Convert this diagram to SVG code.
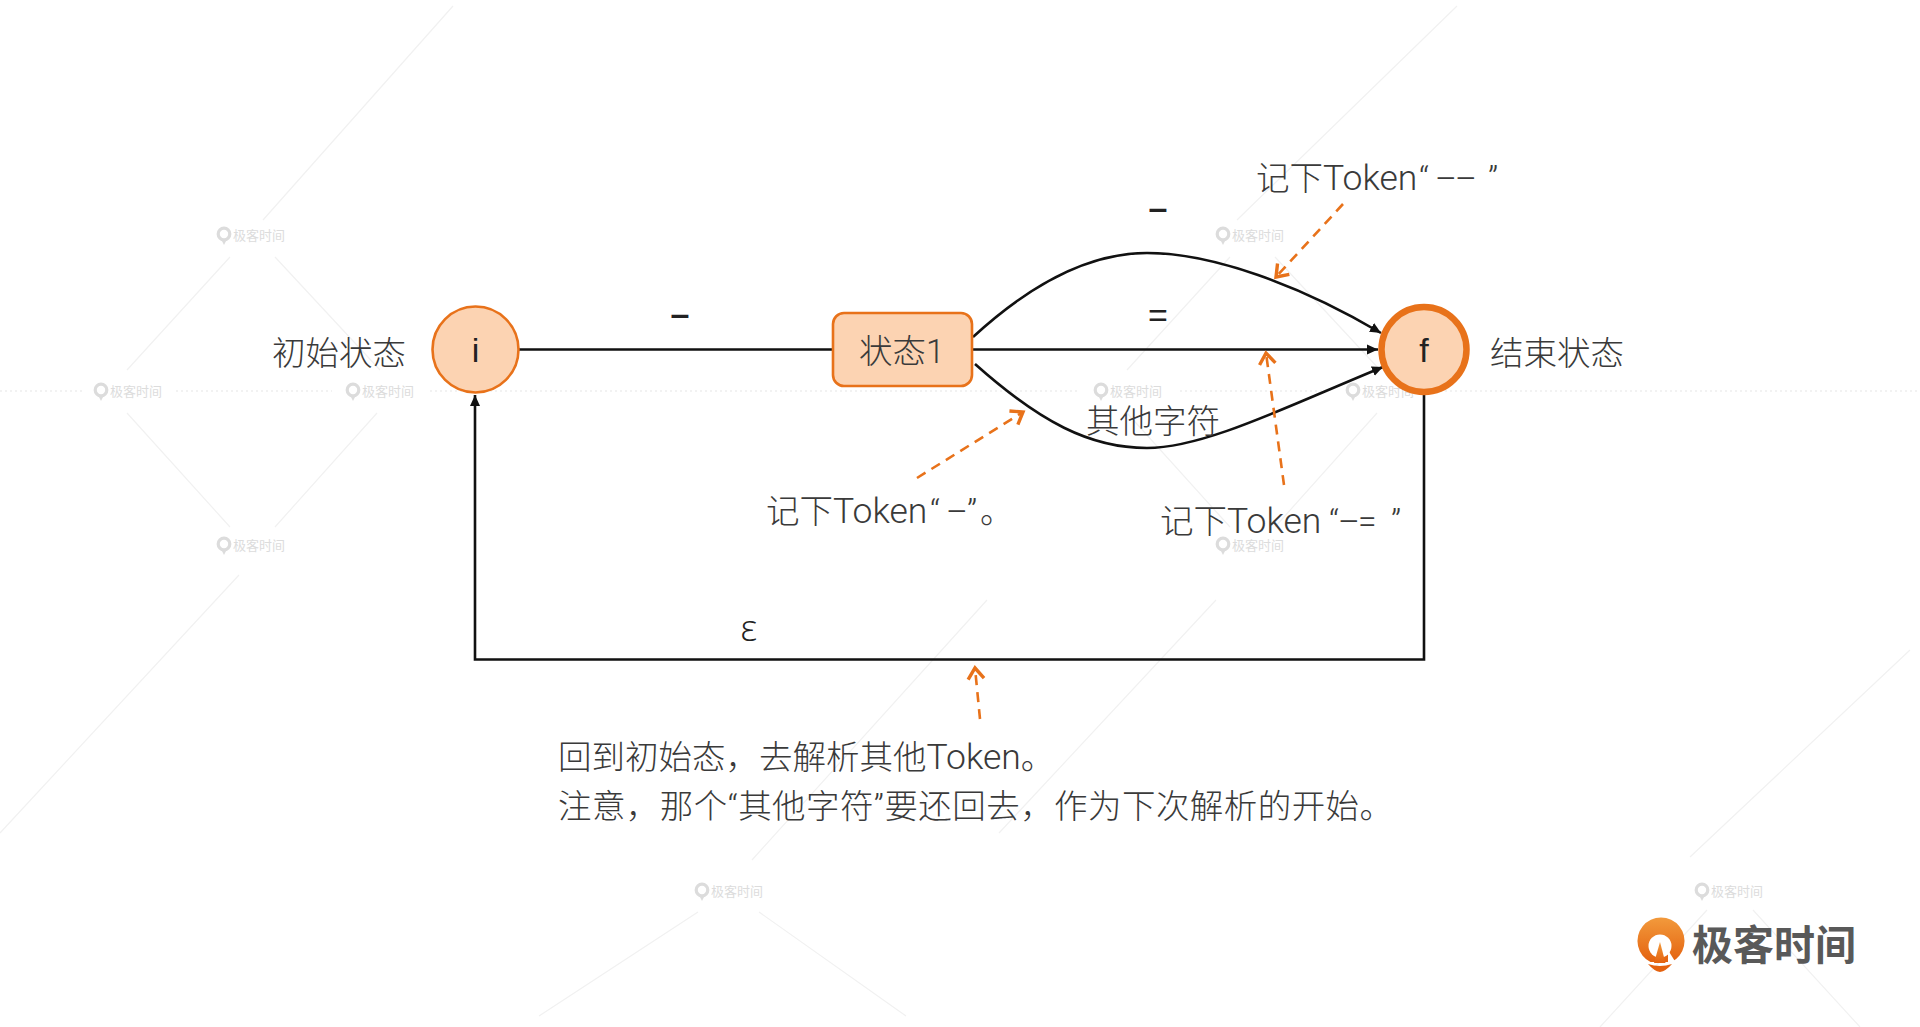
<svg xmlns="http://www.w3.org/2000/svg" width="1920" height="1027" viewBox="0 0 1920 1027">
<style>
text{font-family:Roboto,"Noto Sans CJK SC",sans-serif}
.t{font-size:33.5px;fill:#3a3a3a;font-weight:300}
.k{font-size:35.5px}
.m{font-family:"Liberation Sans",sans-serif;font-size:34px;fill:#222;text-anchor:middle}
.wm{font-family:"Noto Sans CJK SC",sans-serif;font-size:13px;fill:#dcdcdc}
.faint{stroke:#f1f1f1;stroke-width:1.2;fill:none}
.dots{stroke:#e6e6e6;stroke-width:1.2;fill:none;stroke-dasharray:2 3}
.edge{stroke:#111;stroke-width:2.6;fill:none}
.note{stroke:#e8721a;stroke-width:2.6;fill:none;stroke-dasharray:10 7}
.mk{fill:#111}
.node{fill:#fcd3b2;stroke:#e8721a}
</style>
<defs>
<marker id="ah" markerUnits="userSpaceOnUse" markerWidth="14" markerHeight="12" refX="11" refY="6" orient="auto"><path class="mk" d="M0,1 L11,6 L0,11 Z"/></marker>
<marker id="oh" markerUnits="userSpaceOnUse" markerWidth="20" markerHeight="20" refX="14" refY="10" orient="auto"><path d="M3,2 L14,10 L3,18" fill="none" stroke="#e8721a" stroke-width="3.4"/></marker>
<g id="wmk">
<circle cx="-27" cy="-1" r="5.800" fill="none" stroke="#dcdcdc" stroke-width="3.200"/>
<path d="M-30,4 L-27,10 L-24,4Z" fill="#dcdcdc"/>
<text class="wm" x="-18" y="5">极客时间</text>
</g>
<linearGradient id="lg" x1="0" y1="0" x2="0" y2="1"><stop offset="0" stop-color="#f29a3c"/><stop offset="1" stop-color="#e4620f"/></linearGradient>
</defs>
<rect width="1920" height="1027" fill="#fff"/>
<g id="watermark">
<path class="dots" d="M0,391 H84 M176,391 H332 M430,391 H1080 M1180,391 H1330 M1430,391 H1920"/>
<path class="faint" d="M453,6 L263,220 M230,257 L127,370 M275,257 L380,370 M127,413 L230,527 M377,413 L275,527 M239,575 L0,833 M1457,6 L1237,220 M1230,257 L1127,370 M1275,257 L1380,370 M1127,413 L1230,527 M1377,413 L1275,527 M987,600 L752,860 M1216,600 L999,833 M1910,650 L1690,857 M759,912 L906,1016 M698,912 L539,1016 M1753,910 L1860,1027 M1707,910 L1600,1027"/>
<use href="#wmk" x="251" y="235"/><use href="#wmk" x="1250" y="235"/>
<use href="#wmk" x="128" y="391"/><use href="#wmk" x="380" y="391"/>
<use href="#wmk" x="1128" y="391"/><use href="#wmk" x="1380" y="391"/>
<use href="#wmk" x="251" y="545"/><use href="#wmk" x="1250" y="545"/>
<use href="#wmk" x="729" y="891"/><use href="#wmk" x="1729" y="891"/>
</g>
<g id="connectors">
<path class="edge" d="M519,349.500 H832"/>
<path class="edge" d="M973,349.500 H1378" marker-end="url(#ah)"/>
<path class="edge" d="M973,337 C1035,280 1092,253 1147,253 C1212,253 1300,285 1381,333" marker-end="url(#ah)"/>
<path class="edge" d="M975,364 C1040,422 1090,448 1147,448 C1205,448 1290,405 1383,367" marker-end="url(#ah)"/>
<path class="edge" d="M1424,395 V659.500 H475 V395" marker-end="url(#ah)"/>
<path class="note" d="M1343,204 L1276,277" marker-end="url(#oh)"/>
<path class="note" d="M1284,485 L1266,353" marker-end="url(#oh)"/>
<path class="note" d="M917,478 L1023,412" marker-end="url(#oh)"/>
<path class="note" d="M980,719 L975,668" marker-end="url(#oh)"/>
</g>
<g id="node-i"><circle class="node" stroke-width="2.600" cx="475.500" cy="349.500" r="43"/><text class="m" x="475.500" y="362">i</text></g>
<g id="node-s1"><rect class="node" stroke-width="2.600" x="833" y="313" width="139" height="73" rx="11"/><text class="t" x="859" y="363">状态1</text></g>
<g id="node-f"><circle class="node" stroke-width="6.500" cx="1424" cy="349.500" r="42.500"/><text class="m" x="1424" y="362">f</text></g>
<g id="labels">
<text class="t" x="272" y="365">初始状态</text>
<text class="t" x="1490" y="365">结束状态</text>
<text class="m" x="680" y="325" font-weight="700">–</text>
<text class="m" x="1158" y="219" font-weight="700">–</text>
<text class="m" x="1158" y="327">=</text>
<text class="t" x="1086" y="433">其他字符</text>
<text x="749" y="641" style="font-family:'Open Sans',sans-serif;font-size:37px;font-weight:300;fill:#222;text-anchor:middle">ε</text>
<text class="t" x="1256" y="190">记下<tspan class="k">Token</tspan><tspan x="1419">“</tspan><tspan x="1435">–</tspan><tspan x="1455">–</tspan><tspan x="1488">”</tspan></text>
<text class="t" x="1160" y="533">记下<tspan class="k">Token</tspan><tspan x="1329">“</tspan><tspan x="1338">–</tspan><tspan x="1358">=</tspan><tspan x="1391">”</tspan></text>
<text class="t" x="766" y="523">记下<tspan class="k">Token</tspan><tspan x="930">“</tspan><tspan x="946">–</tspan><tspan x="967">”</tspan><tspan x="980">。</tspan></text>
<text class="t" x="558" y="769">回到初始态，去解析其他<tspan class="k">Token</tspan>。</text>
<text class="t" x="558" y="818" textLength="835">注意，那个“其他字符”要还回去，作为下次解析的开始。</text>
</g>
<g id="logo">
<path fill="url(#lg)" d="M1650.500,962 A23.500,23.500 0 1 1 1671.500,962 Z"/>
<circle cx="1660" cy="946" r="11.500" fill="#fff"/>
<path fill="#fff" d="M1668,950 L1676,963 L1668,963 Z"/>
<path fill="url(#lg)" d="M1660,942 L1665.500,963 L1654,963 Z"/>
<path fill="#e4620f" d="M1648,964 Q1660,968 1672,964 Q1666,971 1660,972 Q1654,971 1648,964 Z"/>
<text x="1692" y="960" style="font-family:'Noto Sans CJK SC',sans-serif;font-size:41px;font-weight:700;fill:#595959">极客时间</text>
</g>
</svg>
